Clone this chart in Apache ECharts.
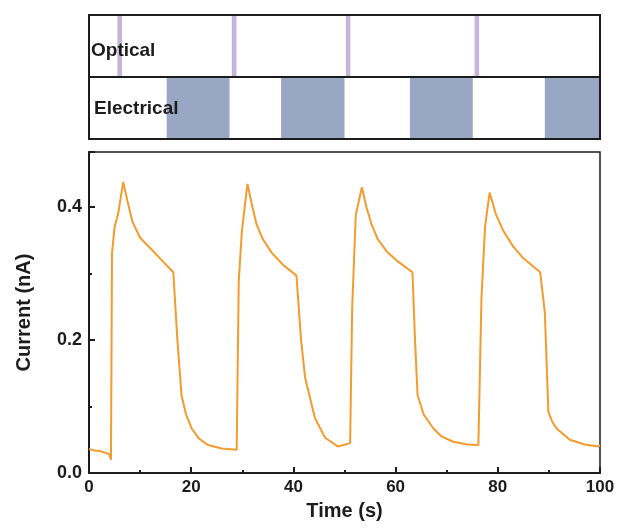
<!DOCTYPE html>
<html>
<head>
<meta charset="utf-8">
<script src="https://cdn.jsdelivr.net/npm/echarts@6/dist/echarts.min.js"></script>
<style>
  html, body { margin: 0; padding: 0; background: #fff; }
  #chart { width: 622px; height: 528px; }
</style>
</head>
<body>
<div id="chart"></div>
<script>
// photocurrent trace
const timeS = [0, 1, 2, 3, 4, 4.3, 4.5, 5.0, 5.7, 6.7, 7.5, 8.5, 10, 12.3, 14.5, 16.5, 17.3, 18.1, 19.0, 20.1, 21.5, 23.3, 26, 28.9,
  29.3, 29.9, 31.0, 32.0, 32.8, 34.0, 35.7, 38.0, 40.6, 41.5, 42.3, 44.2, 46.2, 48.7, 51.1,
  51.5, 52.2, 53.4, 54.3, 55.3, 56.5, 58.3, 60.5, 63.3, 63.8, 64.3, 65.5, 67.4, 69.0, 71.3, 74.0, 76.2,
  76.8, 77.5, 78.4, 79.6, 81.1, 83.0, 85.0, 88.3, 89.2, 89.9, 90.6, 91.5, 94.1, 97.0, 99.7, 100];
const currentNA = [0.036, 0.034, 0.033, 0.031, 0.028, 0.020, 0.33, 0.37, 0.39, 0.438, 0.41, 0.378, 0.354, 0.336, 0.318, 0.302, 0.20, 0.117, 0.088, 0.067, 0.052, 0.042, 0.037, 0.035,
  0.287, 0.362, 0.435, 0.40, 0.374, 0.352, 0.332, 0.313, 0.297, 0.20, 0.143, 0.083, 0.053, 0.040, 0.045,
  0.248, 0.388, 0.430, 0.40, 0.374, 0.352, 0.333, 0.318, 0.302, 0.20, 0.117, 0.088, 0.067, 0.055, 0.047, 0.043, 0.042,
  0.263, 0.37, 0.422, 0.39, 0.364, 0.341, 0.323, 0.302, 0.242, 0.092, 0.078, 0.067, 0.050, 0.043, 0.040, 0.042];

// stimulus timing (s)
const opticalPulses = [6.0, 28.4, 50.7, 75.9];
const pulseWidth = 0.9;
const electricalOn = [[15.2, 27.5], [37.6, 50.0], [62.8, 75.1], [89.2, 100]];
const xTicks = [0, 20, 40, 60, 80, 100];

const font = "'Liberation Sans', Arial, sans-serif";
const ink = "#1c1c1c";

const chart = echarts.init(document.getElementById("chart"));

const rectItem = (params, api) => {
  const p0 = api.coord([api.value(0), api.value(2) + 1]);
  const p1 = api.coord([api.value(1), api.value(2)]);
  return {
    type: "rect",
    shape: { x: p0[0], y: p0[1], width: p1[0] - p0[0], height: p1[1] - p0[1] },
    style: { fill: api.visual("color") },
  };
};

chart.setOption({
  animation: false,
  grid: [
    { left: 89, right: 22, top: 15, height: 124, show: true, borderColor: ink, borderWidth: 2, z: 5 },
    { left: 89, right: 22, top: 152, bottom: 55, show: true, borderColor: ink, borderWidth: 1.5 },
  ],
  xAxis: [
    { gridIndex: 0, type: "value", min: 0, max: 100, show: false },
    {
      gridIndex: 1, type: "value", min: 0, max: 100, interval: 20,
      name: "Time (s)", nameLocation: "middle", nameGap: 28,
      nameTextStyle: { fontFamily: font, fontWeight: "bold", fontSize: 20, color: ink },
      axisLine: { lineStyle: { color: ink, width: 2 } },
      axisTick: { inside: true, length: 6, lineStyle: { color: ink, width: 2 } },
      minorTick: { show: true, splitNumber: 2, length: 3, lineStyle: { color: ink, width: 2 } },
      splitLine: { show: false },
      axisLabel: { fontFamily: font, fontWeight: "bold", fontSize: 17, color: ink, margin: 6,
        formatter: (v) => (xTicks.includes(v) ? String(v) : "") },
    },
  ],
  yAxis: [
    { gridIndex: 0, type: "value", min: 0, max: 2, interval: 1,
      axisLine: { show: false }, axisTick: { show: false }, axisLabel: { show: false },
      splitLine: { show: true, lineStyle: { color: ink, width: 2 } } },
    {
      gridIndex: 1, type: "value", min: 0, max: 0.483, interval: 0.2,
      name: "Current (nA)", nameLocation: "middle", nameGap: 55,
      nameTextStyle: { fontFamily: font, fontWeight: "bold", fontSize: 20, color: ink },
      axisLine: { lineStyle: { color: ink, width: 2 } },
      axisTick: { inside: true, length: 6, lineStyle: { color: ink, width: 2 } },
      minorTick: { show: true, splitNumber: 2, length: 3, lineStyle: { color: ink, width: 2 } },
      splitLine: { show: false },
      axisLabel: { fontFamily: font, fontWeight: "bold", fontSize: 18, color: ink, margin: 7, showMaxLabel: false,
        formatter: (v) => v.toFixed(1) },
    },
  ],
  graphic: [
    { type: "text", left: 91, top: 41, z: 10,
      style: { text: "Optical", font: `bold 19px ${font}`, fill: ink } },
    { type: "text", left: 94, top: 99, z: 10,
      style: { text: "Electrical", font: `bold 19px ${font}`, fill: ink } },
  ],
  series: [
    {
      type: "custom", xAxisIndex: 0, yAxisIndex: 0, z: -1, color: "#c7b4dc",
      renderItem: rectItem,
      data: opticalPulses.map((t) => [t - pulseWidth / 2, t + pulseWidth / 2, 1]),
    },
    {
      type: "custom", xAxisIndex: 0, yAxisIndex: 0, z: -1, color: "#99a6c4",
      renderItem: rectItem,
      data: electricalOn.map(([a, b]) => [a, b, 0]),
    },
    {
      type: "line", xAxisIndex: 1, yAxisIndex: 1, symbol: "none",
      lineStyle: { color: "#f59a2c", width: 2 },
      data: timeS.map((t, i) => [t, currentNA[i]]),
    },
  ],
});
</script>
</body>
</html>
